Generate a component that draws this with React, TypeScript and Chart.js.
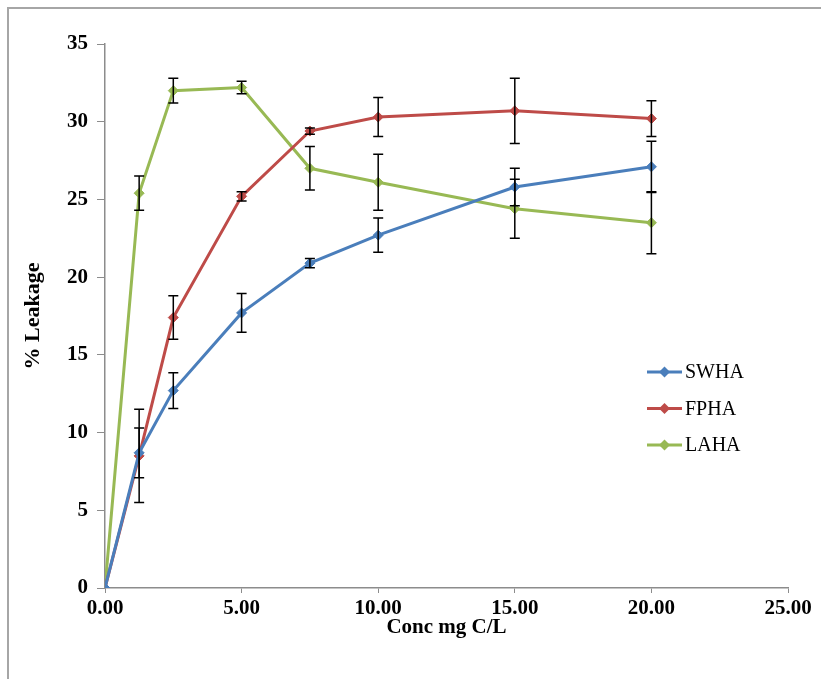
import React, { useEffect, useRef } from "react";
import { Chart, registerables } from "chart.js";

Chart.register(...registerables);

const concentrations = [0, 1.25, 2.5, 5, 7.5, 10, 15, 20];
const seriesNames = ["SWHA", "FPHA", "LAHA"];
const swha = [0, 8.7, 12.7, 17.7, 20.9, 22.7, 25.8, 27.1];
const swhaErr = [0, 1.6, 1.15, 1.25, 0.3, 1.1, 1.2, 1.65];
const fpha = [0, 8.5, 17.4, 25.2, 29.4, 30.3, 30.7, 30.2];
const fphaErr = [0, 3.0, 1.4, 0.3, 0.2, 1.25, 2.1, 1.15];
const laha = [0, 25.4, 32.0, 32.2, 27.0, 26.1, 24.4, 23.5];
const lahaErr = [0, 1.1, 0.8, 0.4, 1.4, 1.8, 1.9, 2.0];
const xTickMin = 0;
const xTickMax = 25;
const xTickStep = 5;
const yTickMin = 0;
const yTickMax = 35;
const yTickStep = 5;
const xTitle = "Conc mg C/L";
const yTitle = "% Leakage";

const colors = ["#4A7EBB", "#BE4B48", "#98B954"];
const SERIF = "'Liberation Serif', 'Times New Roman', serif";
const AXIS_GRAY = "#8C8C8C";

const values = [swha, fpha, laha];
const errors = [swhaErr, fphaErr, lahaErr];

const backgroundPlugin = {
  id: "bgBorder",
  beforeDraw(chart: any) {
    const { ctx, width, height } = chart;
    ctx.save();
    ctx.fillStyle = "#ffffff";
    ctx.fillRect(0, 0, width, height);
    ctx.strokeStyle = "#A6A6A6";
    ctx.lineWidth = 2;
    ctx.beginPath();
    ctx.moveTo(8, height);
    ctx.lineTo(8, 8);
    ctx.lineTo(width, 8);
    ctx.stroke();
    ctx.restore();
  },
};

const errorBarPlugin = {
  id: "errorBars",
  afterDatasetsDraw(chart: any) {
    const { ctx } = chart;
    const xs = chart.scales.x;
    const ys = chart.scales.y;
    ctx.save();
    ctx.strokeStyle = "#000000";
    ctx.lineWidth = 1.5;
    errors.forEach((errArr, di) => {
      errArr.forEach((e, i) => {
        if (!e) return;
        const x = xs.getPixelForValue(concentrations[i]);
        const yt = ys.getPixelForValue(values[di][i] + e);
        const yb = ys.getPixelForValue(values[di][i] - e);
        ctx.beginPath();
        ctx.moveTo(x, yt);
        ctx.lineTo(x, yb);
        ctx.moveTo(x - 5, yt);
        ctx.lineTo(x + 5, yt);
        ctx.moveTo(x - 5, yb);
        ctx.lineTo(x + 5, yb);
        ctx.stroke();
      });
    });
    ctx.restore();
  },
};

const legendPlugin = {
  id: "customLegend",
  afterDraw(chart: any) {
    const { ctx } = chart;
    const lx = 647;
    const ly = 372;
    const gap = 36.5;
    ctx.save();
    seriesNames.forEach((name, i) => {
      const y = ly + i * gap;
      ctx.strokeStyle = colors[i];
      ctx.lineWidth = 3;
      ctx.beginPath();
      ctx.moveTo(lx, y);
      ctx.lineTo(lx + 35, y);
      ctx.stroke();
      ctx.fillStyle = colors[i];
      ctx.beginPath();
      ctx.moveTo(lx + 17.5, y - 5.5);
      ctx.lineTo(lx + 23, y);
      ctx.lineTo(lx + 17.5, y + 5.5);
      ctx.lineTo(lx + 12, y);
      ctx.closePath();
      ctx.fill();
      ctx.fillStyle = "#000000";
      ctx.font = `20px ${SERIF}`;
      ctx.textBaseline = "middle";
      ctx.textAlign = "left";
      ctx.fillText(name, lx + 38, y + 1);
    });
    ctx.restore();
  },
};

export default function App() {
  const ref = useRef<HTMLCanvasElement | null>(null);
  useEffect(() => {
    if (!ref.current) return;
    const chart = new Chart(ref.current, {
      type: "line",
      data: {
        datasets: seriesNames.map((name, i) => ({
          label: name,
          data: concentrations.map((c, j) => ({ x: c, y: values[i][j] })),
          borderColor: colors[i],
          backgroundColor: colors[i],
          borderWidth: 3,
          pointStyle: "rectRot",
          pointRadius: 5,
          pointBorderWidth: 1,
          pointBorderColor: colors[i],
          pointBackgroundColor: colors[i],
          tension: 0,
          fill: false,
        })),
      },
      options: {
        animation: false,
        responsive: false,
        devicePixelRatio: 1,
        layout: { padding: { left: 8, top: 44, right: 33, bottom: 0 } },
        plugins: {
          legend: { display: false },
          tooltip: { enabled: false },
        },
        scales: {
          x: {
            type: "linear",
            min: xTickMin,
            max: xTickMax,
            ticks: {
              stepSize: xTickStep,
              callback: (v: any) => Number(v).toFixed(2),
              font: { family: SERIF, size: 21, weight: "bold" },
              color: "#000000",
              padding: 3,
              maxRotation: 0,
            },
            grid: {
              drawOnChartArea: false,
              drawTicks: true,
              tickLength: 5,
              color: AXIS_GRAY,
            },
            border: { color: AXIS_GRAY, width: 1.5 },
            title: {
              display: true,
              text: xTitle,
              font: { family: SERIF, size: 21, weight: "bold" },
              color: "#000000",
              padding: { top: 0, bottom: 39 },
            },
            afterFit: (s: any) => {
              s.height = 91;
              s.paddingLeft = 0;
              s.paddingRight = 0;
            },
          },
          y: {
            type: "linear",
            min: yTickMin,
            max: yTickMax,
            ticks: {
              stepSize: yTickStep,
              font: { family: SERIF, size: 21, weight: "bold" },
              color: "#000000",
              padding: 9,
            },
            grid: {
              drawOnChartArea: false,
              drawTicks: true,
              tickLength: 8,
              color: AXIS_GRAY,
            },
            border: { color: AXIS_GRAY, width: 1.5 },
            title: {
              display: true,
              text: yTitle,
              font: { family: SERIF, size: 22, weight: "bold" },
              color: "#000000",
              padding: { top: 12, bottom: 0 },
            },
            afterFit: (s: any) => {
              s.width = 97;
              s.paddingTop = 0;
              s.paddingBottom = 0;
            },
          },
        },
      },
      plugins: [backgroundPlugin, errorBarPlugin, legendPlugin],
    } as any);
    return () => chart.destroy();
  }, []);
  return (
    <div style={{ position: "fixed", left: 0, top: 0, width: 821, height: 679 }}>
      <canvas ref={ref} width={821} height={679} />
    </div>
  );
}
